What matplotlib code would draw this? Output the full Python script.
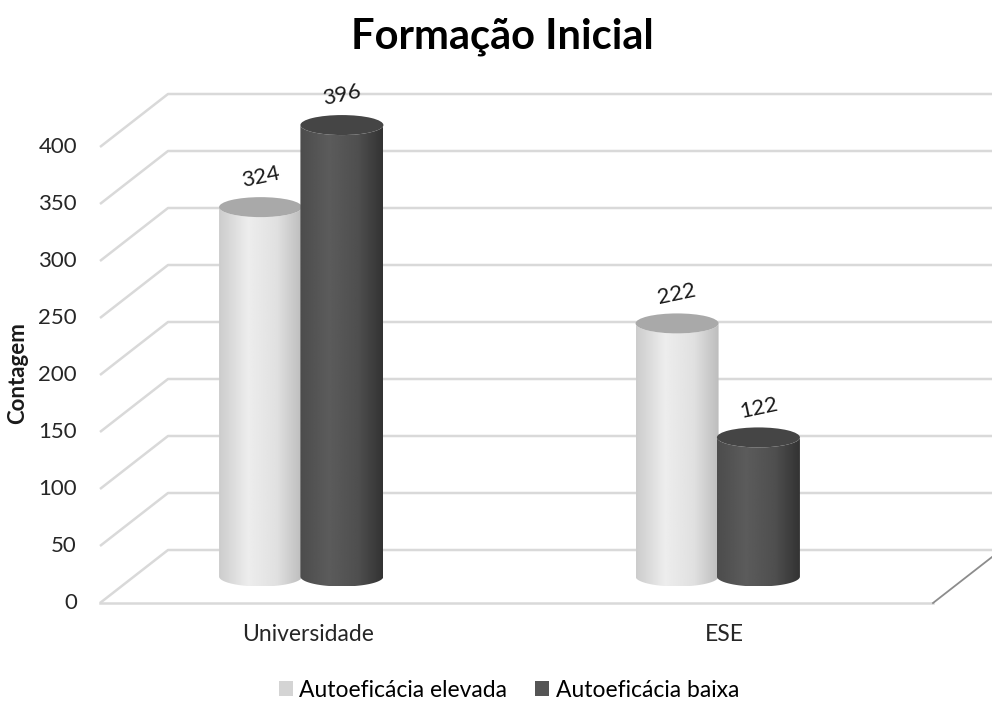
import numpy as np
import matplotlib
matplotlib.use("Agg")
import matplotlib.pyplot as plt
from matplotlib.patches import Polygon, Ellipse, Patch

plt.rcParams['font.family'] = ['Lato', 'DejaVu Sans']

categorias = ['Universidade', 'ESE']
series = ['Autoeficácia elevada', 'Autoeficácia baixa']
elevada = [324, 222]
baixa = [396, 122]
yticks = [0, 50, 100, 150, 200, 250, 300, 350, 400]

# shading across each cylinder (gray level, left -> right) and colour of its lid
shade_pos = [0.0, 0.35, 0.7, 1.0]
shade_elevada = [0.80, 0.93, 0.88, 0.74]
shade_baixa = [0.30, 0.36, 0.31, 0.20]
lid_elevada = '#a9a9a9'
lid_baixa = '#454545'
legend_colors = ['#d4d4d4', '#555555']

# pixel layout of the front plane of the 3D box
W, H = 992, 702
px_cat = 416.5        # px per category
px_val = 1.14         # px per count
front_left = 100
front_bottom = 603
depth_x = 68 / px_cat
depth_y = 53 / px_val

fig = plt.figure(figsize=(W / 100, H / 100), dpi=100)
ax = fig.add_axes([0, 0, 1, 1])
xlim = (-0.5 - front_left / px_cat, -0.5 + (W - front_left) / px_cat)
ylim = (-(H - front_bottom) / px_val, front_bottom / px_val)
ax.axis('off')

grid_c = '#d9d9d9'
xl = -0.5
xr = len(categorias) - 0.5

# walls: diagonal from front edge to the back wall, then across the back
for v in yticks:
    ax.plot([xl, xl + depth_x, xlim[1] + 1], [v, v + depth_y, v + depth_y],
            color=grid_c, lw=1.8, zorder=1, solid_capstyle='butt')
    ax.text(xl - 23 / px_cat, v, str(v), ha='right', va='center', fontsize=16, color='#262626')

# floor
ax.plot([xl, xr], [0, 0], color=grid_c, lw=1.8, zorder=1)
ax.plot([xr, xr + depth_x], [0, depth_y], color='#8c8c8c', lw=1.3, zorder=1)


def cylinder(xc, w, base, height, shades, lid, z):
    rx = w / 2
    ry = 10 / px_val
    t = np.linspace(np.pi, 2 * np.pi, 80)
    bottom = np.column_stack([xc + rx * np.cos(t), base + ry * np.sin(t)])
    top = np.column_stack([xc + rx * np.cos(t[::-1]), base + height + ry * np.sin(t[::-1])])
    body = Polygon(np.vstack([bottom, top]), closed=True, facecolor='none', edgecolor='none')
    ax.add_patch(body)
    prof = np.interp(np.linspace(0, 1, 200), shade_pos, shades)
    img = np.tile(prof, (2, 1))
    im = ax.imshow(img, cmap='gray', vmin=0, vmax=1, aspect='auto', interpolation='bilinear',
                   extent=[xc - rx, xc + rx, base - ry, base + height], zorder=z)
    im.set_clip_path(body)
    ax.add_patch(Ellipse((xc, base + height), w, 2 * ry, facecolor=lid, edgecolor='none', zorder=z + 0.1))


bar_w = 83 / px_cat
shift = -7 / px_cat
base = depth_y / 2
for i, cat in enumerate(categorias):
    for j, (vals, shades, lid) in enumerate([(elevada, shade_elevada, lid_elevada),
                                             (baixa, shade_baixa, lid_baixa)]):
        xc = i + shift + (j - 0.5) * bar_w * 0.98
        cylinder(xc, bar_w, base, vals[i], shades, lid, 3 + j)
        ax.text(xc, base + vals[i] + 26, str(vals[i]), ha='center', va='center',
                rotation=12, fontsize=16, color='#1a1a1a', zorder=10)
    ax.text(i, -28, cat, ha='center', va='center', fontsize=16.5, color='#262626')

ax.text(xl - 82 / px_cat, 202, 'Contagem', rotation=90, ha='center', va='center',
        fontsize=16, fontweight='bold', color='#1a1a1a')

ax.set_xlim(xlim)
ax.set_ylim(ylim)

fig.text(0.506, 0.947, 'Formação Inicial', ha='center', va='center',
         fontsize=30, fontweight='bold', color='black')

handles = [Patch(facecolor=c, edgecolor='none') for c in legend_colors]
fig.legend(handles, series, loc='center', bbox_to_anchor=(0.513, 0.017), ncol=2,
           frameon=False, fontsize=16.5, handlelength=0.6, handleheight=0.6,
           handletextpad=0.3, columnspacing=1.2)

fig.savefig('out.png', dpi=100)
